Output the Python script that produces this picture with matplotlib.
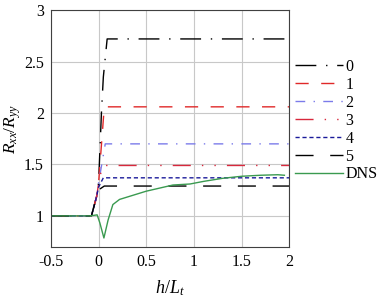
import matplotlib
matplotlib.use('Agg')
import matplotlib.pyplot as plt

plt.rcParams['font.family'] = ['Liberation Serif', 'DejaVu Serif']
plt.rcParams['mathtext.fontset'] = 'custom'
plt.rcParams['mathtext.rm'] = 'Liberation Serif'
plt.rcParams['mathtext.it'] = 'Liberation Serif:italic'

# model curves
h0 = [-0.5, -0.075, -0.02, 0.0, 0.03, 0.05, 0.09, 2.0]
v0 = [1.0, 1.0, 1.19, 1.32, 2.0, 2.35, 2.72, 2.72]
h1 = [-0.5, -0.075, -0.02, 0.0, 0.06, 2.0]
v1 = [1.0, 1.0, 1.19, 1.32, 2.06, 2.06]
h2 = [-0.5, -0.075, -0.02, 0.0, 0.07, 2.0]
v2 = [1.0, 1.0, 1.19, 1.32, 1.70, 1.70]
h3 = [-0.5, -0.075, -0.02, 0.0, 0.04, 2.0]
v3 = [1.0, 1.0, 1.19, 1.31, 1.49, 1.49]
h4 = [-0.5, -0.075, -0.02, 0.0, 0.05, 2.0]
v4 = [1.0, 1.0, 1.19, 1.28, 1.37, 1.37]
h5 = [-0.5, -0.075, -0.02, 0.0, 0.02, 0.06, 2.0]
v5 = [1.0, 1.0, 1.19, 1.26, 1.265, 1.29, 1.29]

# DNS
h_dns = [-0.5, -0.09, -0.05, -0.015, 0.014, 0.056, 0.10, 0.15, 0.22, 0.36,
         0.50, 0.64, 0.78, 0.96, 1.1, 1.3, 1.5, 1.7, 1.88, 1.95]
v_dns = [1.0, 1.0, 1.005, 1.01, 0.93, 0.785, 0.96, 1.11, 1.16, 1.20,
         1.24, 1.27, 1.30, 1.31, 1.335, 1.365, 1.385, 1.395, 1.40, 1.395]

labels = ['0', '1', '2', '3', '4', '5', 'DNS']
x_ticks = [-0.5, 0, 0.5, 1, 1.5, 2]
x_ticklabels = ['-0.5', '0', '0.5', '1', '1.5', '2']
y_ticks = [1, 1.5, 2, 2.5, 3]
y_ticklabels = ['1', '1.5', '2', '2.5', '3']

styles = [
    dict(color='black', dashes=(15, 7, 1, 7)),
    dict(color='#e02828', dashes=(9.5, 9)),
    dict(color='#7b7bea', dashes=(7, 6, 1, 6)),
    dict(color='#d8283c', dashes=(13, 8, 1, 8, 1, 8)),
    dict(color='#1a1a9a', dashes=(3, 2)),
    dict(color='black', dashes=(13, 12)),
]

fig = plt.figure(figsize=(3.8, 2.98), dpi=100)
ax = fig.add_axes([0.134, 0.172, 0.627, 0.794])

curves = [(h0, v0), (h1, v1), (h2, v2), (h3, v3), (h4, v4), (h5, v5)]
for (h, v), st, lab in zip(curves, styles, labels):
    ax.plot(h, v, lw=1.0, label=lab, **st)
ax.plot(h_dns, v_dns, color='#3a9a50', lw=1.0, label=labels[6])

ax.set_xlim(-0.5, 2)
ax.set_ylim(0.7, 3)
ax.set_xticks(x_ticks)
ax.set_xticklabels(x_ticklabels)
ax.set_yticks(y_ticks)
ax.set_yticklabels(y_ticklabels)
ax.tick_params(length=0, labelsize=11.5, pad=5)
ax.grid(True, color='#c8c8c8', lw=0.8)
ax.set_axisbelow(True)
for s in ax.spines.values():
    s.set_color('#404040')
    s.set_linewidth(0.8)

ax.set_xlabel('$h/L_t$', fontsize=13, labelpad=6)
ax.set_ylabel('$R_{xx}/R_{yy}$', fontsize=12.5, labelpad=1)

fig.legend(loc='upper left', bbox_to_anchor=(295 / 380, 1 - 59 / 298),
           frameon=False, fontsize=11.5, handlelength=3.0,
           handletextpad=0.15, labelspacing=0.12, borderaxespad=0,
           borderpad=0)

fig.savefig('out.png', dpi=100)
